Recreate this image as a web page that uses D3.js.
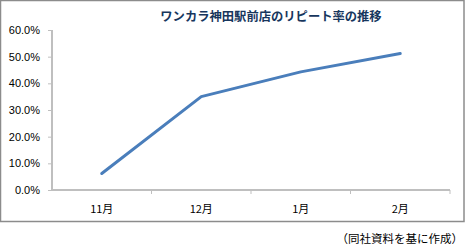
<!DOCTYPE html>
<html><head><meta charset="utf-8">
<script src="https://cdn.jsdelivr.net/npm/d3@7"></script>
<style>body{margin:0;background:#fff}svg{display:block}</style>
</head><body>
<script>
const categories = ["11月","12月","1月","2月"];
const repeatRate = [6.2, 35.0, 44.3, 51.2];
const yTicks = [0,10,20,30,40,50,60];
const title = "ワンカラ神田駅前店のリピート率の推移";
const note = "（同社資料を基に作成）";

const W=466,H=245;
const svg=d3.select("body").append("svg").attr("width",W).attr("height",H);
const jp="'MS PGothic','Noto Sans CJK JP',sans-serif";

svg.append("rect").attr("x",0.5).attr("y",0.5).attr("width",463.5).attr("height",221)
  .attr("fill","#fff").attr("stroke","#8c8c8c").attr("stroke-width",1.5);

const x=d3.scaleBand().domain(categories).range([52,450]);
const y=d3.scaleLinear().domain([0,60]).range([190,30]);

svg.append("text").attr("x",271).attr("y",21).attr("text-anchor","middle")
  .attr("font-family",jp).attr("font-weight","bold").attr("font-size","12.3px")
  .attr("fill","#17365d").text(title);

const ya=svg.append("g").attr("transform","translate(52,0)")
  .call(d3.axisLeft(y).tickValues(yTicks).tickSize(4).tickPadding(8).tickFormat(d=>d.toFixed(1)+"%"));
ya.select(".domain").attr("stroke","#bfbfbf").attr("stroke-width",2).attr("d","M0,30V190");
ya.selectAll(".tick line").attr("stroke","#bfbfbf").attr("stroke-width",1);
ya.selectAll(".tick text").attr("font-family","'Liberation Sans',Arial,sans-serif").attr("font-size","11px").attr("fill","#000");

const xa=svg.append("g").attr("transform","translate(0,190)")
  .call(d3.axisBottom(x).tickSize(0).tickPadding(15));
xa.select(".domain").attr("stroke","#bfbfbf").attr("stroke-width",2).attr("d","M52,0H450");
xa.selectAll(".tick text").attr("font-family",jp).attr("font-size","11px").attr("fill","#000");
const bounds=categories.map(c=>x(c)).concat([x.range()[1]]);
xa.selectAll(".bt").data(bounds.slice(1)).enter().append("line").attr("class","bt")
  .attr("x1",d=>d).attr("x2",d=>d).attr("y1",0).attr("y2",4).attr("stroke","#bfbfbf");

const line=d3.line().x((d,i)=>x(categories[i])+x.bandwidth()/2).y(d=>y(d));
svg.append("path").datum(repeatRate).attr("d",line).attr("fill","none")
  .attr("stroke","#4a7ebb").attr("stroke-width",3).attr("stroke-linecap","round").attr("stroke-linejoin","round");

svg.append("text").attr("x",463).attr("y",243).attr("text-anchor","end")
  .attr("font-family",jp).attr("font-size","11.5px").attr("fill","#000").text(note);
</script>
</body></html>
